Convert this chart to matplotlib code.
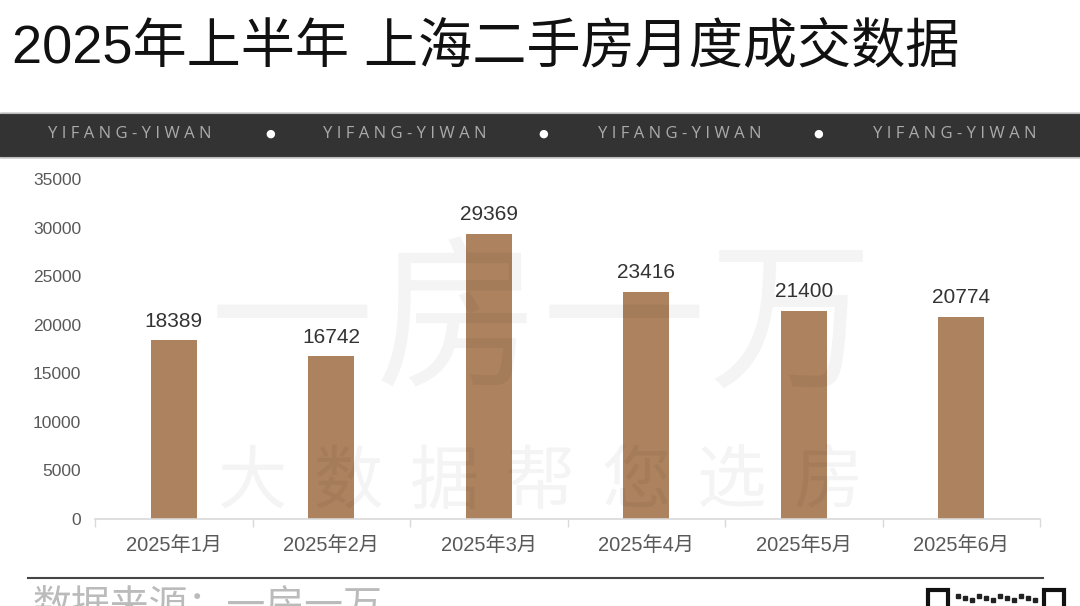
import matplotlib.pyplot as plt
import matplotlib.patches as patches

plt.rcParams['font.family'] = ['Liberation Sans', 'Noto Sans CJK SC', 'DejaVu Sans']

# data
months = ['2025年1月', '2025年2月', '2025年3月', '2025年4月', '2025年5月', '2025年6月']
deals = [18389, 16742, 29369, 23416, 21400, 20774]
yticks = [0, 5000, 10000, 15000, 20000, 25000, 30000, 35000]

title = '2025年上半年 上海二手房月度成交数据'
band_text = 'YIFANG-YIWAN'
wm_big = '一房一万'
wm_small = '大数据帮您选房'
source = '数据来源：一房一万'

bar_color = '#ad825e'

fig = plt.figure(figsize=(10.8, 6.06), dpi=100)
W, H = 1080, 606

def fx(px):
    return px / W

def fy(py):
    return 1 - py / H

# title
fig.text(fx(12), fy(49), title, fontsize=39, color='#111111', va='center', ha='left')

# dark band
fig.patches.append(patches.Rectangle((0, fy(157)), 1, fy(113) - fy(157), transform=fig.transFigure,
                                     color='#333333', zorder=0))
fig.lines.append(plt.Line2D([0, 1], [fy(113), fy(113)], transform=fig.transFigure, color='#bbbbbb', lw=0.8))
fig.lines.append(plt.Line2D([0, 1], [fy(157), fy(157)], transform=fig.transFigure, color='#bbbbbb', lw=0.8))
spaced = ' '.join(band_text)
for cx in [130, 405, 680, 955]:
    fig.text(fx(cx), fy(134), spaced, fontsize=12, color='#aaaaaa', ha='center', va='center',
             family=['Open Sans', 'DejaVu Sans'])
for cx in [270, 543, 818]:
    fig.text(fx(cx), fy(134), '●', fontsize=8, color='#ffffff', ha='center', va='center',
             family=['DejaVu Sans'])

# chart
ax = fig.add_axes([fx(95), fy(519), fx(1040) - fx(95), fy(179) - fy(519)])
x = list(range(len(months)))
ax.bar(x, deals, width=0.29, color=bar_color, zorder=2)
for xi, v in zip(x, deals):
    ax.text(xi, v + 1000, str(v), ha='center', va='bottom', fontsize=15, color='#333333')

ax.set_xlim(-0.5, len(months) - 0.5)
ax.set_ylim(0, 35000)
ax.set_yticks(yticks)
ax.set_yticklabels([str(t) for t in yticks], fontsize=12.5, color='#595959')
ax.set_xticks(x)
ax.set_xticklabels(months, fontsize=14.5, color='#595959')
ax.set_xticks([i - 0.5 for i in range(len(months) + 1)], minor=True)
ax.tick_params(axis='x', which='major', length=0, pad=12)
ax.tick_params(axis='x', which='minor', length=6, color='#d9d9d9', width=1)
ax.tick_params(axis='y', length=0, pad=10)
for s in ['top', 'right', 'left']:
    ax.spines[s].set_visible(False)
ax.spines['bottom'].set_color('#d9d9d9')
ax.spines['bottom'].set_linewidth(1.2)

# watermark (faint dark overlay)
for i, ch in enumerate(wm_big):
    fig.text(fx(292 + i * 166), fy(328), ch, fontsize=118, color='#000000', alpha=0.045,
             ha='center', va='center', zorder=5, family=['Noto Sans CJK SC'])
for i, ch in enumerate(wm_small):
    fig.text(fx(252 + i * 96), fy(483), ch, fontsize=50, color='#000000', alpha=0.045,
             ha='center', va='center', zorder=5, family=['Noto Sans CJK SC'])

# bottom line and source
fig.lines.append(plt.Line2D([fx(28), fx(1043)], [fy(578), fy(578)], transform=fig.transFigure,
                            color='#444444', lw=1.5))
fig.text(fx(32), fy(590), source, fontsize=28, color='#bbbbbb', ha='left', va='top')

# qr-like mark
for qx in [928, 1044]:
    fig.patches.append(patches.Rectangle((fx(qx), fy(610)), fx(20), fy(590) - fy(610),
                                         transform=fig.transFigure, fill=False, ec='#111111', lw=3))
for i in range(12):
    fig.patches.append(patches.Rectangle((fx(956 + i * 7), fy(598 + (i % 3) * 2)), fx(4), fy(592) - fy(596),
                                         transform=fig.transFigure, color='#222222'))

fig.savefig('out.png', dpi=100)
